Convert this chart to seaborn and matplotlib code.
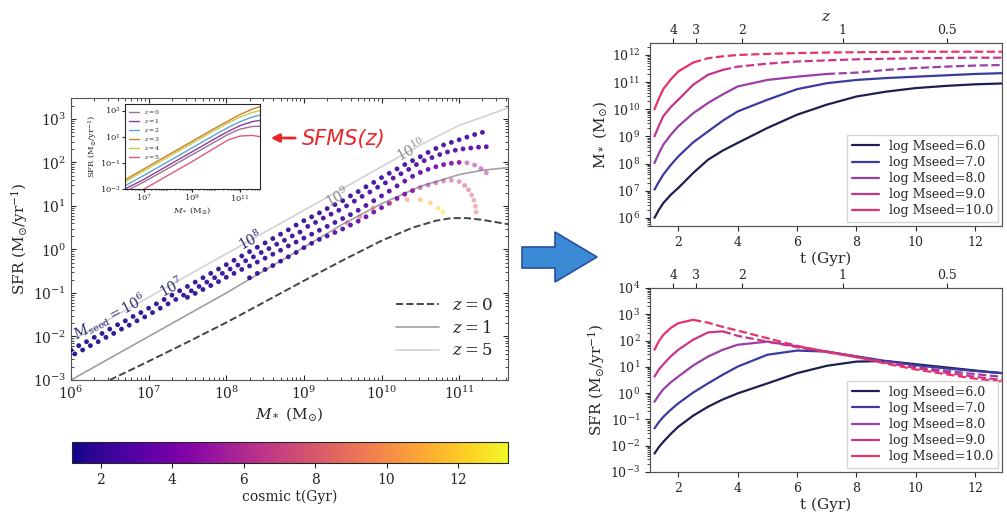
import numpy as np
import pandas as pd
import matplotlib
matplotlib.use("Agg")
import matplotlib.pyplot as plt
import seaborn as sns
from matplotlib.patches import Polygon
from matplotlib.colors import Normalize
from matplotlib.cm import ScalarMappable
from matplotlib.ticker import LogLocator, NullFormatter

sns.set_style("ticks")
plt.rcParams["font.family"] = ["DejaVu Serif"]
plt.rcParams["mathtext.fontset"] = "dejavuserif"

# ---------------- data: main SFR-M* panel (log10 M*, log10 SFR, cosmic t) ----------------
row_A = [(6.0,-2.31,1.20),(6.1,-2.21,1.22),(6.2,-2.12,1.24),(6.3,-2.02,1.26),(6.4,-1.93,1.28),(6.5,-1.83,1.30),
         (6.6,-1.73,1.32),(6.7,-1.64,1.34),(6.8,-1.54,1.36),(6.9,-1.45,1.38),(7.0,-1.35,1.40),(7.1,-1.25,1.42),
         (7.2,-1.15,1.44),(7.3,-1.05,1.46),(7.4,-0.95,1.48),(7.5,-0.85,1.50),(7.6,-0.75,1.52),(7.7,-0.65,1.54),
         (7.8,-0.55,1.56),(7.9,-0.45,1.58),(8.0,-0.35,1.60),(8.1,-0.25,1.62),(8.2,-0.15,1.64),(8.3,-0.05,1.66),
         (8.4,0.05,1.68),(8.5,0.15,1.70),(8.6,0.25,1.72),(8.7,0.35,1.74),(8.8,0.45,1.76),(8.9,0.56,1.78),
         (9.0,0.66,1.80),(9.1,0.75,1.82),(9.2,0.84,1.84),(9.3,0.94,1.86),(9.4,1.03,1.88),(9.5,1.12,1.90),
         (9.6,1.23,1.92),(9.7,1.33,1.94),(9.8,1.44,1.96),(9.9,1.54,1.98),(10.0,1.65,2.00),(10.1,1.75,2.03),
         (10.2,1.85,2.06),(10.3,1.95,2.09),(10.4,2.04,2.12),(10.5,2.13,2.15),(10.6,2.23,2.18),(10.7,2.32,2.21),
         (10.8,2.40,2.24),(10.9,2.46,2.27),(11.0,2.52,2.30),(11.1,2.58,2.33),(11.2,2.64,2.36),(11.3,2.69,2.40)]
row_B = [(6.05,-2.40,1.30),(6.15,-2.31,1.33),(6.25,-2.21,1.36),(6.35,-2.12,1.39),(6.45,-2.02,1.42),(6.55,-1.93,1.45),
         (6.65,-1.83,1.48),(6.75,-1.74,1.51),(6.85,-1.64,1.54),(6.95,-1.55,1.57),(7.05,-1.45,1.60),(7.15,-1.35,1.63),
         (7.25,-1.25,1.66),(7.35,-1.15,1.69),(7.45,-1.05,1.72),(7.55,-0.95,1.75),(7.65,-0.85,1.78),(7.75,-0.75,1.81),
         (7.85,-0.65,1.84),(7.95,-0.55,1.87),(8.05,-0.45,1.90),(8.15,-0.36,1.93),(8.25,-0.26,1.96),(8.35,-0.17,1.99),
         (8.45,-0.07,2.02),(8.55,0.02,2.05),(8.65,0.12,2.08),(8.75,0.21,2.11),(8.85,0.31,2.14),(8.95,0.40,2.17),
         (9.05,0.53,2.20),(9.15,0.62,2.23),(9.25,0.72,2.26),(9.35,0.81,2.29),(9.45,0.90,2.32),(9.55,1.00,2.35),
         (9.65,1.11,2.38),(9.75,1.22,2.41),(9.85,1.32,2.44),(9.95,1.43,2.47),(10.05,1.53,2.50),(10.15,1.64,2.54),
         (10.25,1.74,2.58),(10.35,1.84,2.62),(10.45,1.95,2.66),(10.55,2.04,2.70),(10.65,2.11,2.75),(10.75,2.18,2.80),
         (10.85,2.24,2.85),(10.95,2.28,2.90),(11.05,2.31,2.95),(11.15,2.33,3.00),(11.25,2.35,3.05),(11.35,2.36,3.10)]
row_C = [(7.5,-1.10,1.50),(7.6,-1.01,1.53),(7.7,-0.92,1.56),(7.8,-0.83,1.59),(7.9,-0.74,1.62),(8.0,-0.64,1.65),
         (8.1,-0.55,1.68),(8.2,-0.46,1.71),(8.3,-0.38,1.74),(8.4,-0.29,1.77),(8.5,-0.20,1.80),(8.6,-0.11,1.84),
         (8.7,-0.02,1.88),(8.8,0.08,1.92),(8.9,0.17,1.96),(9.0,0.26,2.00),(9.1,0.35,2.05),(9.2,0.44,2.10),
         (9.3,0.53,2.15),(9.4,0.62,2.20),(9.5,0.71,2.25),(9.6,0.80,2.30),(9.7,0.90,2.36),(9.8,1.01,2.42),
         (9.9,1.12,2.48),(10.0,1.23,2.55),(10.1,1.34,2.65),(10.2,1.46,2.80),(10.3,1.57,2.95),(10.4,1.68,3.15),
         (10.5,1.77,3.40),(10.6,1.84,3.65),(10.7,1.90,3.90),(10.8,1.95,4.15),(10.9,1.98,4.40),(11.0,2.00,4.70),
         (11.1,1.99,5.00),(11.2,1.94,5.30),(11.28,1.86,5.60),(11.35,1.76,6.00)]
row_D = [(8.3,-0.65,1.80),(8.4,-0.55,1.85),(8.5,-0.46,1.90),(8.6,-0.37,1.96),(8.7,-0.27,2.02),(8.8,-0.17,2.08),
         (8.9,-0.07,2.15),(9.0,0.04,2.22),(9.1,0.14,2.30),(9.2,0.23,2.40),(9.3,0.31,2.55),(9.4,0.39,2.75),
         (9.5,0.47,3.00),(9.6,0.56,3.15),(9.7,0.65,3.30),(9.8,0.75,3.45),(9.9,0.86,3.60),(10.0,0.96,3.80),
         (10.1,1.06,4.00),(10.2,1.17,4.20),(10.3,1.27,4.40),(10.4,1.35,4.70),(10.5,1.42,5.00),(10.6,1.48,5.30),
         (10.7,1.53,5.60),(10.8,1.57,6.00),(10.9,1.59,6.50),(11.0,1.56,7.00),(11.07,1.47,7.40),(11.12,1.37,7.80),
         (11.16,1.25,8.20),(11.19,1.13,8.50),(11.21,0.99,8.80),(11.22,0.86,9.10)]
row_E = [(9.56,0.61,6.5),(9.72,0.75,7.3),(9.89,0.95,8.0),(10.11,1.07,8.8),(10.33,1.14,9.6),
         (10.50,1.14,10.4),(10.63,1.07,11.2),(10.73,0.95,12.0),(10.79,0.86,12.8)]

# SFMS reference lines (log10 M*, log10 SFR)
z0_logM = [6.5, 7.0, 7.5, 8.0, 8.5, 9.0, 9.5, 10.0, 10.4, 10.7, 10.9, 11.1, 11.3, 11.63]
z0_logSFR = [-3.0, -2.57, -2.13, -1.68, -1.2, -0.72, -0.25, 0.2, 0.5, 0.66, 0.72, 0.72, 0.68, 0.58]
z1_logM = [6.0, 7.0, 8.0, 9.0, 9.5, 10.0, 10.5, 11.0, 11.3, 11.63]
z1_logSFR = [-3.0, -2.0, -1.0, 0.05, 0.58, 1.05, 1.45, 1.72, 1.82, 1.88]
z5_logM = [6.0, 7.0, 8.0, 9.0, 10.0, 10.5, 11.0, 11.63]
z5_logSFR = [-2.1, -1.1, -0.1, 0.9, 1.9, 2.4, 2.85, 3.25]

seed_labels = ["$M_{\\rm seed}=10^6$", "$10^7$", "$10^8$", "$10^9$", "$10^{10}$"]
seed_label_logM = [6.5, 7.3, 8.31, 9.43, 10.39]
seed_label_logSFR = [-1.55, -0.86, 0.22, 1.2, 2.29]
seed_label_colors = ["#2b2b6e", "#2b2b6e", "#2b2b6e", "#8a8a8a", "#8a8a8a"]

# inset: SFMS(z)
ins_logM = [6.2, 7.0, 8.0, 9.0, 10.0, 10.5, 11.0, 11.5, 11.83]
ins_z_labels = ["$z=0$", "$z=1$", "$z=2$", "$z=3$", "$z=4$", "$z=5$"]
ins_logSFR = {
    "$z=0$": [-3.2, -2.45, -1.42, -0.38, 0.66, 1.18, 1.58, 1.78, 1.8],
    "$z=1$": [-3.0, -2.25, -1.2, -0.15, 0.9, 1.4, 1.85, 2.15, 2.25],
    "$z=2$": [-2.75, -1.95, -0.9, 0.15, 1.2, 1.7, 2.15, 2.5, 2.65],
    "$z=3$": [-2.3, -1.45, -0.4, 0.65, 1.7, 2.2, 2.7, 3.1, 3.3],
    "$z=4$": [-2.45, -1.6, -0.55, 0.5, 1.55, 2.05, 2.5, 2.85, 3.0],
    "$z=5$": [-3.85, -3.0, -1.95, -0.9, 0.2, 0.75, 1.05, 1.1, 1.0],
}
ins_colors = ["#a0708f", "#8a3fa0", "#5ba3d6", "#d07c22", "#c5cc4a", "#dd5a7a"]

# ---------------- data: right panels ----------------
t_grid = [1.2, 1.35, 1.5, 1.75, 2.0, 2.5, 3.0, 3.5, 4.0, 5.0, 6.0, 7.0, 8.0, 9.0, 10.0, 11.0, 12.0, 12.9]
seeds = [6.0, 7.0, 8.0, 9.0, 10.0]
seed_colors = ["#1e1e52", "#3a3aa0", "#9a3fa5", "#c8348a", "#e8336a"]
dash_from = [99.0, 99.0, 7.0, 3.5, 2.5]
logMstar = {
    6.0: [6.0, 6.3, 6.55, 6.85, 7.1, 7.65, 8.14, 8.48, 8.76, 9.31, 9.8, 10.17, 10.47, 10.65, 10.78, 10.86, 10.92, 10.95],
    7.0: [7.04, 7.33, 7.6, 7.95, 8.26, 8.78, 9.18, 9.58, 9.92, 10.35, 10.74, 10.96, 11.08, 11.15, 11.2, 11.25, 11.3, 11.33],
    8.0: [8.02, 8.38, 8.7, 9.06, 9.37, 9.85, 10.23, 10.55, 10.84, 11.08, 11.2, 11.3, 11.35, 11.45, 11.52, 11.57, 11.61, 11.63],
    9.0: [9.0, 9.4, 9.75, 10.08, 10.35, 10.9, 11.27, 11.45, 11.57, 11.68, 11.76, 11.8, 11.84, 11.86, 11.88, 11.89, 11.9, 11.9],
    10.0: [10.0, 10.4, 10.75, 11.1, 11.39, 11.72, 11.88, 11.95, 12.0, 12.04, 12.07, 12.09, 12.1, 12.11, 12.12, 12.12, 12.12, 12.12],
}
logSFR_t = {
    6.0: [-2.3, -2.05, -1.85, -1.55, -1.28, -0.86, -0.52, -0.24, -0.01, 0.37, 0.76, 1.04, 1.2, 1.22, 1.1, 0.98, 0.86, 0.76],
    7.0: [-1.34, -1.1, -0.9, -0.63, -0.39, 0.02, 0.37, 0.7, 1.01, 1.46, 1.62, 1.58, 1.4, 1.22, 1.06, 0.94, 0.84, 0.76],
    8.0: [-0.33, -0.07, 0.15, 0.41, 0.63, 1.05, 1.39, 1.65, 1.84, 1.96, 1.78, 1.58, 1.39, 1.18, 0.99, 0.85, 0.72, 0.62],
    9.0: [0.63, 0.9, 1.1, 1.4, 1.65, 2.03, 2.31, 2.35, 2.18, 1.96, 1.75, 1.56, 1.37, 1.15, 0.95, 0.78, 0.62, 0.5],
    10.0: [1.65, 1.98, 2.22, 2.48, 2.66, 2.79, 2.68, 2.52, 2.38, 2.09, 1.8, 1.57, 1.37, 1.12, 0.9, 0.72, 0.55, 0.44],
}
z_tick_t = [1.83, 2.6, 4.15, 7.54, 11.06]
z_tick_labels = ["4", "3", "2", "1", "0.5"]

# ---------------- figure ----------------
fig = plt.figure(figsize=(10.07, 5.19), dpi=100)
fig.patch.set_facecolor("white")

cmap_name = "plasma"
tmin, tmax = 1.2, 13.4

ax = fig.add_axes([0.0705, 0.2678, 0.434, 0.5434])
ax.set_xscale("log")
ax.set_yscale("log")
rows = row_A + row_B + row_C + row_D + row_E
dots = pd.DataFrame(rows, columns=["logM", "logSFR", "t"])
dots["M"] = 10 ** dots["logM"]
dots["SFR"] = 10 ** dots["logSFR"]
early = dots[dots["t"] < 5.0]
late = dots[dots["t"] >= 5.0]
sns.scatterplot(data=early, x="M", y="SFR", hue="t", palette=cmap_name, hue_norm=(tmin, tmax),
                s=12, linewidth=0, alpha=0.9, legend=False, ax=ax, zorder=3)
sns.scatterplot(data=late, x="M", y="SFR", hue="t", palette=cmap_name, hue_norm=(tmin, tmax),
                s=12, linewidth=0, alpha=0.5, legend=False, ax=ax, zorder=3)
sns.lineplot(x=10 ** np.array(z0_logM), y=10 ** np.array(z0_logSFR), ax=ax, color="#454545",
             linestyle="--", lw=1.4, label="$z=0$", sort=False, estimator=None)
sns.lineplot(x=10 ** np.array(z1_logM), y=10 ** np.array(z1_logSFR), ax=ax, color="#a0a0a0",
             lw=1.2, label="$z=1$", sort=False, estimator=None)
sns.lineplot(x=10 ** np.array(z5_logM), y=10 ** np.array(z5_logSFR), ax=ax, color="#d2d2d2",
             lw=1.2, label="$z=5$", sort=False, estimator=None)
for s, lm, ls, c in zip(seed_labels, seed_label_logM, seed_label_logSFR, seed_label_colors):
    ax.text(10 ** lm, 10 ** ls, s, rotation=28, ha="center", va="center", fontsize=10,
            color=c, rotation_mode="anchor", zorder=4)
ax.set_xlim(1e6, 10 ** 11.63)
ax.set_ylim(1e-3, 10 ** 3.48)
ax.xaxis.set_major_locator(LogLocator(base=10, numticks=20))
ax.yaxis.set_major_locator(LogLocator(base=10, numticks=20))
ax.tick_params(which="both", direction="in", top=True, right=True, labelsize=10)
ax.set_xlabel("$M_*$ (M$_{\\odot}$)", fontsize=11, labelpad=2)
ax.set_ylabel("SFR (M$_{\\odot}$/yr$^{-1}$)", fontsize=11, labelpad=2)
ax.legend(loc="lower right", frameon=False, fontsize=12, handlelength=2.6,
          bbox_to_anchor=(1.0, 0.02), labelspacing=0.35)
for sp in ax.spines.values():
    sp.set_color("#555555")

# inset
axi = fig.add_axes([0.1241, 0.6358, 0.1341, 0.1638])
axi.set_xscale("log")
axi.set_yscale("log")
for lab, c in zip(ins_z_labels, ins_colors):
    sns.lineplot(x=10 ** np.array(ins_logM), y=10 ** np.array(ins_logSFR[lab]), ax=axi, color=c,
                 lw=1.0, label=lab, sort=False, estimator=None)
axi.set_xlim(10 ** 6.2, 10 ** 11.83)
axi.set_ylim(1e-3, 10 ** 3.5)
axi.set_xticks([1e7, 1e9, 1e11])
axi.set_yticks([1e-3, 1e-1, 1e1, 1e3])
axi.xaxis.set_minor_formatter(NullFormatter())
axi.yaxis.set_minor_formatter(NullFormatter())
axi.tick_params(which="both", labelsize=6, length=2, pad=1)
axi.tick_params(which="minor", length=1)
axi.set_xlabel("$M_*$ (M$_{\\odot}$)", fontsize=6, labelpad=1)
axi.set_ylabel("SFR (M$_{\\odot}$/yr$^{-1}$)", fontsize=6, labelpad=1)
axi.legend(loc="upper left", frameon=False, fontsize=4.5, handlelength=1.6, labelspacing=0.15,
           borderaxespad=0.3)

# colorbar
cax = fig.add_axes([0.0715, 0.1079, 0.433, 0.0405])
cb = fig.colorbar(ScalarMappable(norm=Normalize(tmin, tmax), cmap=cmap_name), cax=cax,
                  orientation="horizontal")
cb.set_ticks([2, 4, 6, 8, 10, 12])
cb.ax.tick_params(labelsize=10)
cb.set_label("cosmic t(Gyr)", fontsize=10, labelpad=2)

# right panels
ax_t = fig.add_axes([0.6455, 0.5645, 0.3496, 0.3526])
ax_b = fig.add_axes([0.6455, 0.0906, 0.3496, 0.3545])
for a in (ax_t, ax_b):
    a.set_yscale("log")
for sd, c, br in zip(seeds, seed_colors, dash_from):
    df = pd.DataFrame({"t": t_grid, "M": 10 ** np.array(logMstar[sd]), "SFR": 10 ** np.array(logSFR_t[sd])})
    solid = df[df["t"] <= br]
    dashed = df[df["t"] >= br]
    lab = f"log Mseed={sd:.1f}"
    sns.lineplot(data=solid, x="t", y="M", ax=ax_t, color=c, lw=1.6, label=lab, sort=False, estimator=None)
    sns.lineplot(data=solid, x="t", y="SFR", ax=ax_b, color=c, lw=1.6, label=lab, sort=False, estimator=None)
    if len(dashed) > 1:
        sns.lineplot(data=dashed, x="t", y="M", ax=ax_t, color=c, lw=1.6, linestyle="--",
                     sort=False, estimator=None)
        sns.lineplot(data=dashed, x="t", y="SFR", ax=ax_b, color=c, lw=1.6, linestyle="--",
                     sort=False, estimator=None)

ax_t.set_ylim(5e5, 10 ** 12.44)
ax_b.set_ylim(1e-3, 1e4)
for a, ylab in ((ax_t, "M$_*$ (M$_{\\odot}$)"), (ax_b, "SFR (M$_{\\odot}$/yr$^{-1}$)")):
    a.set_xlim(1.05, 12.9)
    a.set_xticks([2, 4, 6, 8, 10, 12])
    a.yaxis.set_major_locator(LogLocator(base=10, numticks=20))
    a.tick_params(which="both", labelsize=9)
    a.set_xlabel("t (Gyr)", fontsize=11, labelpad=2)
    a.set_ylabel(ylab, fontsize=11, labelpad=2)
    h, l = a.get_legend_handles_labels()
    a.legend(h[:5], l[:5], loc="lower right", fontsize=9, frameon=True, edgecolor="#cccccc",
             fancybox=False, handlelength=2.2, labelspacing=0.25, borderaxespad=0.3)
    for sp in a.spines.values():
        sp.set_color("#555555")
    top = a.twiny()
    top.set_xlim(a.get_xlim())
    top.set_xticks(z_tick_t)
    top.set_xticklabels(z_tick_labels)
    top.tick_params(labelsize=9, pad=1)
    for sp in top.spines.values():
        sp.set_color("#555555")
    if a is ax_t:
        top.set_xlabel("$z$", fontsize=11, labelpad=2)

# overlay: block arrow and SFMS(z) annotation
ov = fig.add_axes([0, 0, 1, 1])
ov.set_xlim(0, 1007)
ov.set_ylim(519, 0)
ov.axis("off")
ov.add_patch(Polygon([(522, 247), (555, 247), (555, 232), (597, 257), (555, 282), (555, 268), (522, 268)],
                     closed=True, facecolor="#3a8ad6", edgecolor="#2a4f9e", lw=1.2))
ov.annotate("", xy=(268, 138), xytext=(298, 138),
            arrowprops=dict(arrowstyle="-|>", color="#e8262a", lw=2, mutation_scale=12))
ov.text(302, 139, "SFMS(z)", color="#e8262a", fontsize=15, style="italic",
        family=["DejaVu Sans"], va="center", ha="left")

fig.savefig("out.png", dpi=100, facecolor="white")
